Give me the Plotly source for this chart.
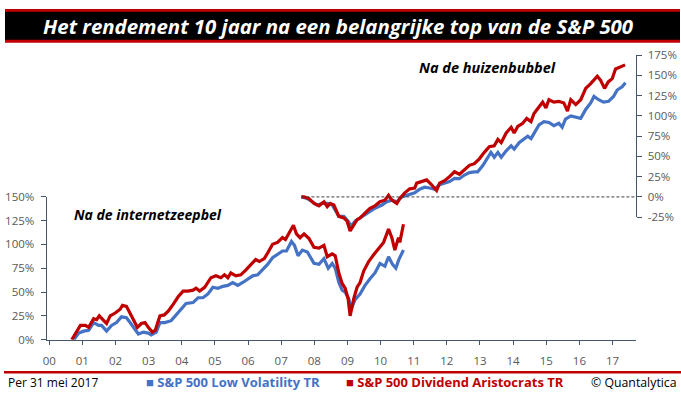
import plotly.graph_objects as go

W, H = 681, 399

# ---------------- data (decimal years, % return) ----------------
dot_red_x = [2000.68, 2000.79, 2000.94, 2001.09, 2001.19, 2001.34, 2001.43, 2001.51, 2001.64, 2001.73,
             2001.84, 2001.99, 2002.14, 2002.21, 2002.33, 2002.44, 2002.54, 2002.66, 2002.78, 2002.89,
             2002.99, 2003.11, 2003.20, 2003.34, 2003.47, 2003.59, 2003.74, 2003.89, 2004.04, 2004.19,
             2004.34, 2004.43, 2004.54, 2004.69, 2004.88, 2005.03, 2005.18, 2005.29, 2005.39, 2005.48,
             2005.63, 2005.78, 2005.93, 2006.08, 2006.23, 2006.34, 2006.49, 2006.61, 2006.74, 2006.89,
             2007.04, 2007.13, 2007.24, 2007.37, 2007.46, 2007.57, 2007.69, 2007.84, 2007.99, 2008.14,
             2008.29, 2008.39, 2008.54, 2008.63, 2008.74, 2008.84, 2008.93, 2009.02, 2009.08, 2009.19,
             2009.29, 2009.38, 2009.49, 2009.64, 2009.79, 2009.94, 2010.09, 2010.24, 2010.34, 2010.43,
             2010.54, 2010.58, 2010.69]
dot_red_y = [0, 7, 15, 15, 13, 22, 21, 25, 20, 17,
             25, 28, 32, 36, 35, 28, 22, 13, 17, 18,
             13, 8, 10, 25, 26, 30, 37, 45, 51, 51,
             52, 54, 51, 55, 65, 67, 65, 68, 65, 70,
             67, 68, 73, 78, 84, 82, 85, 92, 100, 102,
             107, 105, 112, 120, 111, 107, 111, 106, 97, 96,
             99, 87, 90, 88, 70, 59, 54, 43, 25, 43,
             55, 60, 72, 82, 89, 96, 102, 116, 107, 94,
             107, 102, 121]

dot_blue_x = [2000.74, 2000.89, 2001.04, 2001.19, 2001.34, 2001.49, 2001.58, 2001.73, 2001.88, 2002.03,
              2002.18, 2002.33, 2002.44, 2002.59, 2002.69, 2002.84, 2002.99, 2003.08, 2003.23, 2003.34,
              2003.49, 2003.68, 2003.83, 2003.98, 2004.13, 2004.34, 2004.49, 2004.64, 2004.79, 2004.94,
              2005.09, 2005.24, 2005.39, 2005.54, 2005.69, 2005.84, 2005.99, 2006.14, 2006.29, 2006.44,
              2006.59, 2006.74, 2006.89, 2007.04, 2007.16, 2007.31, 2007.40, 2007.51, 2007.64, 2007.79,
              2007.99, 2008.14, 2008.29, 2008.42, 2008.54, 2008.63, 2008.74, 2008.84, 2008.93, 2009.04,
              2009.11, 2009.23, 2009.38, 2009.53, 2009.68, 2009.83, 2009.98, 2010.13, 2010.24, 2010.36,
              2010.46, 2010.55, 2010.69]
dot_blue_y = [0, 7, 9, 10, 18, 15, 15, 9, 15, 18,
              24, 23, 18, 10, 6, 8, 7, 5, 8, 18,
              18, 20, 26, 33, 38, 39, 44, 44, 48, 55,
              54, 56, 57, 60, 57, 60, 64, 67, 68, 73,
              79, 86, 90, 93, 93, 103, 99, 88, 94, 92,
              80, 79, 85, 75, 80, 75, 60, 52, 50, 43,
              32, 42, 48, 57, 64, 70, 80, 77, 87, 79,
              75, 84, 94]

gfc_red_x = [2007.61, 2007.69, 2007.84, 2007.99, 2008.14, 2008.29, 2008.39, 2008.48, 2008.59, 2008.74,
             2008.89, 2008.99, 2009.08, 2009.19, 2009.29, 2009.38, 2009.53, 2009.68, 2009.83, 2009.98,
             2010.13, 2010.24, 2010.34, 2010.49, 2010.58, 2010.73, 2010.88, 2011.03, 2011.09, 2011.24,
             2011.39, 2011.54, 2011.69, 2011.78, 2011.93, 2012.08, 2012.23, 2012.38, 2012.53, 2012.68,
             2012.83, 2012.98, 2013.13, 2013.28, 2013.43, 2013.54, 2013.64, 2013.79, 2013.94, 2014.03,
             2014.14, 2014.29, 2014.41, 2014.54, 2014.63, 2014.78, 2014.89, 2014.99, 2015.08, 2015.23,
             2015.38, 2015.53, 2015.64, 2015.74, 2015.89, 2016.04, 2016.19, 2016.34, 2016.54, 2016.64,
             2016.76, 2016.87, 2016.99, 2017.09, 2017.23, 2017.38]
gfc_red_y = [0, 0, -2, -8, -11, -6, -12, -8, -10, -24,
             -26, -30, -42, -34, -28, -26, -20, -14, -11, -6,
             -4, 2, -4, -8, -2, 5, 10, 11, 17, 19,
             21, 15, 8, 17, 20, 25, 31, 28, 33, 39,
             41, 47, 55, 62, 63, 71, 67, 79, 86, 79,
             87, 91, 97, 93, 103, 112, 117, 110, 120, 117,
             118, 116, 106, 120, 114, 120, 134, 140, 149, 144,
             134, 142, 146, 158, 160, 163]

gfc_blue_x = [2007.61, 2007.79, 2007.94, 2008.09, 2008.24, 2008.39, 2008.54, 2008.74, 2008.89, 2009.02,
              2009.11, 2009.23, 2009.38, 2009.53, 2009.68, 2009.83, 2010.04, 2010.19, 2010.34, 2010.49,
              2010.64, 2010.79, 2011.03, 2011.18, 2011.33, 2011.48, 2011.63, 2011.78, 2011.93, 2012.08,
              2012.23, 2012.38, 2012.53, 2012.68, 2012.83, 2012.93, 2013.09, 2013.24, 2013.33, 2013.43,
              2013.54, 2013.64, 2013.79, 2013.94, 2014.03, 2014.18, 2014.33, 2014.44, 2014.54, 2014.63,
              2014.78, 2014.93, 2015.08, 2015.23, 2015.38, 2015.48, 2015.58, 2015.74, 2015.89, 2016.04,
              2016.19, 2016.34, 2016.44, 2016.58, 2016.73, 2016.88, 2017.03, 2017.14, 2017.29, 2017.39]
gfc_blue_y = [0, -2, -6, -10, -8, -8, -10, -24, -24, -30,
              -36, -30, -26, -22, -18, -14, -10, -6, -4, -6,
              0, 2, 5, 9.5, 12, 11, 9.5, 15, 17, 19,
              23, 22.5, 27, 30, 31, 31, 39, 49, 55, 49,
              55, 49, 57, 63, 59, 67, 71, 75, 72, 79,
              89, 93, 92, 88, 91, 86, 96, 100, 99, 97,
              108, 116, 124, 120, 117, 118, 124, 132, 136, 141]

years = list(range(2000, 2018))
year_labels = [f"{y % 100:02d}" for y in years]
left_ticks = [0, 25, 50, 75, 100, 125, 150]
right_ticks = [-25, 0, 25, 50, 75, 100, 125, 150, 175]

RED = "#C00000"
BLUE = "#4472C4"
AXIS = "#44546A"
TICKFONT = dict(family="Open Sans, sans-serif", size=11.5, color="#595959")


def px_x(p):
    return p / W


def px_y(p):
    return (H - p) / H


X_RANGE = [1999.925, 2017.716]

fig = go.Figure()

# right-hand (2007 top) series
fig.add_trace(go.Scatter(x=gfc_blue_x, y=gfc_blue_y, mode="lines", xaxis="x", yaxis="y2",
                         line=dict(color=BLUE, width=3.2), showlegend=False))
fig.add_trace(go.Scatter(x=gfc_red_x, y=gfc_red_y, mode="lines", xaxis="x", yaxis="y2",
                         line=dict(color=RED, width=3.2), showlegend=False))
# zero reference on right axis
fig.add_trace(go.Scatter(x=[gfc_red_x[0], X_RANGE[1]], y=[0, 0], mode="lines", xaxis="x", yaxis="y4",
                         line=dict(color="#404040", width=1, dash="3px,2px"), showlegend=False,
                         hoverinfo="skip"))
# left-hand (2000 top) series
fig.add_trace(go.Scatter(x=dot_blue_x, y=dot_blue_y, mode="lines", xaxis="x", yaxis="y",
                         line=dict(color=BLUE, width=3.2), showlegend=False))
fig.add_trace(go.Scatter(x=dot_red_x, y=dot_red_y, mode="lines", xaxis="x", yaxis="y",
                         line=dict(color=RED, width=3.2), showlegend=False))

y_left_dom = [px_y(344.7), px_y(196.0)]
r_per = 21.04 / 25.0
y_right_disp_dom = [px_y(196.3 + 25 * r_per), px_y(196.3 - 175 * r_per)]
y_right_data_dom = [px_y(196.3 + 50 * r_per), px_y(196.3 - 175 * r_per)]

x_dom = [px_x(43), px_x(636)]

fig.update_layout(
    width=W, height=H,
    margin=dict(l=0, r=0, t=0, b=0),
    paper_bgcolor="white", plot_bgcolor="rgba(0,0,0,0)",
    showlegend=False,
    xaxis=dict(domain=x_dom, range=X_RANGE, anchor="y", tickmode="array", tickvals=years,
               ticktext=year_labels, ticks="outside", ticklen=4, tickcolor=AXIS, showline=True,
               linecolor=AXIS, linewidth=1.3, showgrid=False, zeroline=False, tickfont=TICKFONT,
               ticklabelstandoff=6),
    xaxis2=dict(overlaying="x", range=X_RANGE, anchor="y", side="bottom", tickmode="array",
                tickvals=years, ticks="inside", ticklen=4, tickcolor=AXIS, showticklabels=False,
                showline=False, showgrid=False, zeroline=False),
    yaxis=dict(domain=y_left_dom, range=[0, 150], anchor="x", tickmode="array", tickvals=left_ticks,
               ticktext=[f"{v}%" for v in left_ticks], ticks="outside", ticklen=5, tickcolor=AXIS,
               showline=True, linecolor=AXIS, linewidth=1.3, showgrid=False, zeroline=False,
               tickfont=TICKFONT, ticklabelstandoff=4),
    yaxis3=dict(overlaying="y", range=[0, 150], anchor="x", tickmode="array", tickvals=left_ticks,
                ticks="inside", ticklen=5, tickcolor=AXIS, showticklabels=False, showline=False,
                showgrid=False, zeroline=False),
    yaxis2=dict(domain=y_right_data_dom, range=[-50, 175], anchor="x", side="right", visible=False),
    yaxis4=dict(domain=y_right_disp_dom, range=[-25, 175], anchor="x", side="right",
                tickmode="array", tickvals=right_ticks, ticktext=[f"{v}%" for v in right_ticks],
                ticks="outside", ticklen=5, tickcolor=AXIS, showline=True, linecolor=AXIS,
                linewidth=1.3, showgrid=False, zeroline=False, tickfont=TICKFONT,
                ticklabelstandoff=3),
    yaxis5=dict(overlaying="y4", range=[-25, 175], anchor="x", side="right", tickmode="array",
                tickvals=right_ticks, ticks="inside", ticklen=5, tickcolor=AXIS,
                showticklabels=False, showline=False, showgrid=False, zeroline=False),
)

# title banner
fig.add_shape(type="rect", xref="paper", yref="paper", x0=px_x(1), x1=px_x(680),
              y0=px_y(36), y1=px_y(1), fillcolor=RED, line_width=0, layer="below")
fig.add_shape(type="rect", xref="paper", yref="paper", x0=px_x(1), x1=px_x(680),
              y0=px_y(33), y1=px_y(4), fillcolor="black", line_width=0, layer="below")
# footer line
fig.add_shape(type="line", xref="paper", yref="paper", x0=0, x1=1, y0=px_y(378.5), y1=px_y(378.5),
              line=dict(color=RED, width=2.5))

fig.add_annotation(xref="paper", yref="paper", x=px_x(336), y=px_y(18.5), showarrow=False,
                   text="<b><i>Het rendement 10 jaar na een belangrijke top van de S&amp;P 500</i></b>",
                   font=dict(family="Open Sans, sans-serif", size=20.4, color="white"),
                   xanchor="center", yanchor="middle")

fig.add_annotation(xref="paper", yref="paper", x=px_x(145), y=px_y(215), showarrow=False,
                   text="<b><i>Na de internetzeepbel</i></b>",
                   font=dict(family="Open Sans, sans-serif", size=14, color="black"),
                   xanchor="center", yanchor="middle")
fig.add_annotation(xref="paper", yref="paper", x=px_x(486), y=px_y(62), showarrow=False,
                   text="<b><i>Na de huizenbubbel</i></b>",
                   font=dict(family="Open Sans, sans-serif", size=14.5, color="black"),
                   xanchor="center", yanchor="middle")

FOOT = "Open Sans, sans-serif"
fig.add_annotation(xref="paper", yref="paper", x=px_x(2), y=px_y(389), showarrow=False,
                   text="Per 31 mei 2017", font=dict(family=FOOT, size=12, color="black"),
                   xanchor="left", yanchor="middle")
fig.add_annotation(xref="paper", yref="paper", x=px_x(141), y=px_y(389), showarrow=False,
                   text="<b>■ S&amp;P 500 Low Volatility TR</b>",
                   font=dict(family=FOOT, size=13, color=BLUE), xanchor="left", yanchor="middle")
fig.add_annotation(xref="paper", yref="paper", x=px_x(342), y=px_y(389), showarrow=False,
                   text="<b>■ S&amp;P 500 Dividend Aristocrats TR</b>",
                   font=dict(family=FOOT, size=13, color=RED), xanchor="left", yanchor="middle")
fig.add_annotation(xref="paper", yref="paper", x=px_x(679), y=px_y(389), showarrow=False,
                   text="© Quantalytica", font=dict(family=FOOT, size=12.3, color="black"),
                   xanchor="right", yanchor="middle")

fig.write_html("out.html", config={"displayModeBar": False},
               post_script="document.body.style.margin='0';")
